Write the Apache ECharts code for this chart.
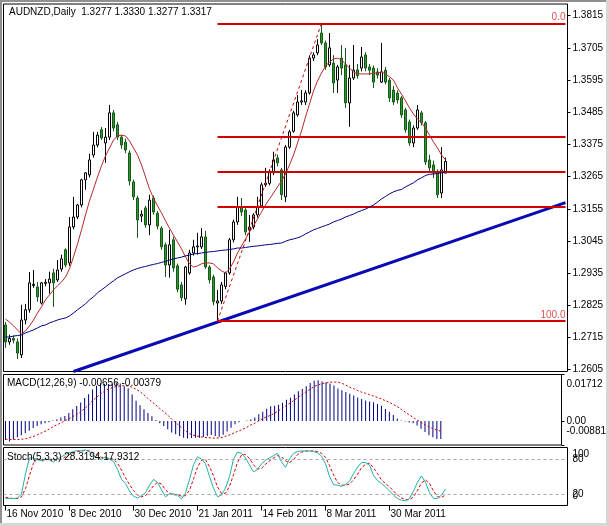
<!DOCTYPE html>
<html><head><meta charset="utf-8">
<script src="https://cdn.jsdelivr.net/npm/echarts@6/dist/echarts.min.js"></script>
<style>html,body{margin:0;padding:0;background:#fff}#c{width:609px;height:526px}</style>
</head><body><div id="c"></div>
<script>
const dates = [
'16 Nov 2010','17 Nov 2010','18 Nov 2010','19 Nov 2010','22 Nov 2010','23 Nov 2010','24 Nov 2010','25 Nov 2010','26 Nov 2010','29 Nov 2010',
'30 Nov 2010','1 Dec 2010','2 Dec 2010','3 Dec 2010','6 Dec 2010','7 Dec 2010','8 Dec 2010','9 Dec 2010','10 Dec 2010','13 Dec 2010',
'14 Dec 2010','15 Dec 2010','16 Dec 2010','17 Dec 2010','20 Dec 2010','21 Dec 2010','22 Dec 2010','23 Dec 2010','24 Dec 2010','27 Dec 2010',
'28 Dec 2010','29 Dec 2010','30 Dec 2010','31 Dec 2010','3 Jan 2011','4 Jan 2011','5 Jan 2011','6 Jan 2011','7 Jan 2011','10 Jan 2011',
'11 Jan 2011','12 Jan 2011','13 Jan 2011','14 Jan 2011','17 Jan 2011','18 Jan 2011','19 Jan 2011','20 Jan 2011','21 Jan 2011','24 Jan 2011',
'25 Jan 2011','26 Jan 2011','27 Jan 2011','28 Jan 2011','31 Jan 2011','1 Feb 2011','2 Feb 2011','3 Feb 2011','4 Feb 2011','7 Feb 2011',
'8 Feb 2011','9 Feb 2011','10 Feb 2011','11 Feb 2011','14 Feb 2011','15 Feb 2011','16 Feb 2011','17 Feb 2011','18 Feb 2011','21 Feb 2011',
'22 Feb 2011','23 Feb 2011','24 Feb 2011','25 Feb 2011','28 Feb 2011','1 Mar 2011','2 Mar 2011','3 Mar 2011','4 Mar 2011','7 Mar 2011',
'8 Mar 2011','9 Mar 2011','10 Mar 2011','11 Mar 2011','14 Mar 2011','15 Mar 2011','16 Mar 2011','17 Mar 2011','18 Mar 2011','21 Mar 2011',
'22 Mar 2011','23 Mar 2011','24 Mar 2011','25 Mar 2011','28 Mar 2011','29 Mar 2011','30 Mar 2011','31 Mar 2011','1 Apr 2011','4 Apr 2011',
'5 Apr 2011','6 Apr 2011','7 Apr 2011','8 Apr 2011','11 Apr 2011','12 Apr 2011','13 Apr 2011','14 Apr 2011','15 Apr 2011','18 Apr 2011',
'19 Apr 2011'];

const openP = [
1.2758,1.2700,1.2712,1.2700,1.2656,1.2775,1.2810,1.2893,1.2888,1.2833,
1.2900,1.2902,1.2936,1.2912,1.2949,1.3015,1.2970,1.3093,1.3127,1.3168,
1.3254,1.3271,1.3339,1.3373,1.3425,1.3380,1.3400,1.3483,1.3442,1.3400,
1.3383,1.3346,1.3247,1.3192,1.3130,1.3158,1.3100,1.3192,1.3140,1.3089,
1.3032,1.2963,1.3049,1.2960,1.2895,1.2847,1.2936,1.3004,1.3025,1.3025,
1.3059,1.2956,1.2922,1.2833,1.2840,1.2890,1.2936,1.3049,1.3110,1.3161,
1.3151,1.3083,1.3093,1.3134,1.3165,1.3237,1.3242,1.3278,1.3329,1.3288,
1.3196,1.3366,1.3420,1.3476,1.3520,1.3520,1.3551,1.3670,1.3688,1.3756,
1.3722,1.3647,1.3653,1.3595,1.3670,1.3647,1.3517,1.3602,1.3630,1.3636,
1.3681,1.3640,1.3636,1.3623,1.3588,1.3629,1.3595,1.3561,1.3551,1.3534,
1.3493,1.3452,1.3380,1.3431,1.3483,1.3449,1.3322,1.3305,1.3281,1.3209,1.3277];
const highP = [
1.2768,1.2725,1.2722,1.2712,1.2827,1.2830,1.2939,1.2946,1.2905,1.2905,
1.2915,1.2940,1.2950,1.2980,1.2998,1.3020,1.3127,1.3196,1.3172,1.3258,
1.3280,1.3343,1.3418,1.3418,1.3435,1.3431,1.3510,1.3493,1.3452,1.3407,
1.3395,1.3355,1.3255,1.3200,1.3150,1.3165,1.3203,1.3200,1.3148,1.3095,
1.3040,1.3083,1.3060,1.2968,1.2905,1.2960,1.3015,1.3049,1.3073,1.3089,
1.3080,1.2962,1.2930,1.2878,1.2905,1.2940,1.3055,1.3118,1.3196,1.3192,
1.3158,1.3134,1.3140,1.3196,1.3245,1.3295,1.3290,1.3350,1.3340,1.3295,
1.3373,1.3425,1.3490,1.3544,1.3561,1.3560,1.3680,1.3690,1.3735,1.3789,
1.3730,1.3756,1.3680,1.3647,1.3715,1.3705,1.3647,1.3715,1.3650,1.3708,
1.3690,1.3650,1.3645,1.3636,1.3722,1.3640,1.3602,1.3575,1.3560,1.3540,
1.3500,1.3460,1.3440,1.3510,1.3490,1.3455,1.3340,1.3320,1.3290,1.3366,1.3330];
const lowP = [
1.2680,1.2690,1.2695,1.2642,1.2645,1.2760,1.2800,1.2885,1.2837,1.2828,
1.2890,1.2865,1.2820,1.2905,1.2940,1.2955,1.2960,1.3085,1.3120,1.3160,
1.3220,1.3262,1.3330,1.3365,1.3390,1.3312,1.3390,1.3420,1.3390,1.3360,
1.3345,1.3235,1.3185,1.3056,1.3110,1.3090,1.3065,1.3135,1.3085,1.3015,
1.2922,1.2920,1.2940,1.2870,1.2840,1.2827,1.2930,1.2995,1.2998,1.3018,
1.2950,1.2900,1.2825,1.2772,1.2830,1.2880,1.2930,1.3040,1.3100,1.3130,
1.3065,1.3042,1.3085,1.3125,1.3160,1.3230,1.3235,1.3270,1.3300,1.3185,
1.3178,1.3360,1.3415,1.3470,1.3510,1.3510,1.3545,1.3660,1.3680,1.3715,
1.3630,1.3640,1.3551,1.3551,1.3612,1.3500,1.3435,1.3595,1.3600,1.3625,
1.3625,1.3612,1.3568,1.3600,1.3585,1.3580,1.3520,1.3510,1.3515,1.3466,
1.3415,1.3370,1.3366,1.3425,1.3440,1.3305,1.3280,1.3260,1.3192,1.3192,1.3277];
const closeP = [
1.2700,1.2712,1.2706,1.2662,1.2775,1.2810,1.2902,1.2897,1.2854,1.2902,
1.2904,1.2915,1.2902,1.2946,1.2984,1.2963,1.3093,1.3127,1.3168,1.3254,
1.3278,1.3322,1.3373,1.3407,1.3397,1.3400,1.3483,1.3431,1.3400,1.3373,
1.3356,1.3250,1.3196,1.3117,1.3136,1.3100,1.3185,1.3144,1.3096,1.3025,
1.2963,1.3032,1.2953,1.2880,1.2851,1.2956,1.3004,1.3025,1.3028,1.3059,
1.2956,1.2912,1.2838,1.2840,1.2895,1.2936,1.3049,1.3110,1.3161,1.3144,
1.3076,1.3093,1.3134,1.3161,1.3237,1.3242,1.3281,1.3322,1.3312,1.3203,
1.3366,1.3418,1.3483,1.3520,1.3524,1.3551,1.3670,1.3681,1.3715,1.3722,
1.3640,1.3705,1.3585,1.3640,1.3636,1.3517,1.3602,1.3629,1.3610,1.3674,
1.3636,1.3629,1.3588,1.3612,1.3623,1.3588,1.3534,1.3520,1.3527,1.3476,
1.3425,1.3380,1.3431,1.3493,1.3449,1.3315,1.3295,1.3278,1.3203,1.3288,1.3317];

const maFast = [
1.2778,1.2768,1.2755,1.2741,1.2727,1.2738,1.2755,1.2775,1.2799,1.2820,
1.2844,1.2861,1.2878,1.2892,1.2905,1.2922,1.2950,1.2991,1.3035,1.3083,
1.3134,1.3182,1.3223,1.3264,1.3302,1.3336,1.3363,1.3390,1.3404,1.3407,
1.3404,1.3387,1.3363,1.3339,1.3305,1.3264,1.3223,1.3192,1.3165,1.3141,
1.3114,1.3089,1.3065,1.3042,1.3018,1.2991,1.2967,1.2956,1.2960,1.2967,
1.2970,1.2970,1.2967,1.2953,1.2943,1.2936,1.2950,1.2973,1.3004,1.3028,
1.3052,1.3076,1.3097,1.3120,1.3144,1.3168,1.3189,1.3209,1.3230,1.3250,
1.3274,1.3305,1.3339,1.3380,1.3421,1.3469,1.3513,1.3558,1.3592,1.3619,
1.3643,1.3657,1.3667,1.3670,1.3664,1.3650,1.3636,1.3623,1.3616,1.3616,
1.3616,1.3616,1.3619,1.3619,1.3623,1.3616,1.3606,1.3595,1.3568,1.3547,
1.3524,1.3500,1.3479,1.3462,1.3449,1.3431,1.3407,1.3383,1.3363,1.3339,1.3322];
const maSlow = [
1.2717,1.2717,1.2720,1.2722,1.2724,1.2731,1.2736,1.2741,1.2748,1.2755,
1.2758,1.2765,1.2770,1.2775,1.2779,1.2782,1.2789,1.2799,1.2810,1.2820,
1.2830,1.2844,1.2854,1.2868,1.2878,1.2888,1.2899,1.2909,1.2919,1.2926,
1.2933,1.2940,1.2946,1.2951,1.2955,1.2958,1.2962,1.2965,1.2968,1.2972,
1.2975,1.2980,1.2984,1.2987,1.2990,1.2994,1.2997,1.3001,1.3002,1.3004,
1.3006,1.3008,1.3009,1.3011,1.3013,1.3014,1.3016,1.3018,1.3021,1.3021,
1.3023,1.3025,1.3027,1.3028,1.3030,1.3032,1.3033,1.3035,1.3037,1.3038,
1.3044,1.3049,1.3052,1.3056,1.3061,1.3069,1.3076,1.3083,1.3088,1.3093,
1.3098,1.3103,1.3110,1.3115,1.3120,1.3127,1.3132,1.3137,1.3144,1.3149,
1.3154,1.3161,1.3168,1.3178,1.3189,1.3197,1.3206,1.3213,1.3218,1.3221,
1.3230,1.3237,1.3244,1.3254,1.3261,1.3269,1.3273,1.3274,1.3276,1.3278,1.3281];

const macdMain = [
-0.0070,-0.0075,-0.0068,-0.0060,-0.0052,-0.0045,-0.0036,-0.0026,-0.0018,-0.0012,
-0.0008,-0.0004,0.0002,0.0007,0.0013,0.0019,0.0030,0.0043,0.0055,0.0068,
0.0085,0.0099,0.0116,0.0130,0.0139,0.0137,0.0134,0.0137,0.0142,0.0138,
0.0128,0.0121,0.0098,0.0075,0.0058,0.0043,0.0030,0.0018,0.0004,-0.0008,
-0.0018,-0.0030,-0.0042,-0.0049,-0.0055,-0.0061,-0.0064,-0.0062,-0.0061,-0.0061,
-0.0059,-0.0055,-0.0051,-0.0055,-0.0058,-0.0050,-0.0038,-0.0025,-0.0012,-0.0004,
0.0000,0.0002,0.0007,0.0013,0.0025,0.0034,0.0045,0.0054,0.0056,0.0060,
0.0067,0.0078,0.0086,0.0098,0.0110,0.0118,0.0128,0.0140,0.0148,0.0150,
0.0145,0.0143,0.0138,0.0131,0.0120,0.0113,0.0107,0.0100,0.0094,0.0087,
0.0081,0.0076,0.0072,0.0069,0.0063,0.0056,0.0044,0.0034,0.0022,0.0009,
0.0002,-0.0002,-0.0005,-0.0008,-0.0016,-0.0028,-0.0040,-0.0052,-0.0060,-0.0066,-0.00656];
const macdSignal = [
-0.0067,-0.0068,-0.0068,-0.0068,-0.0067,-0.0065,-0.0061,-0.0057,-0.0051,-0.0044,
-0.0038,-0.0030,-0.0021,-0.0014,-0.0007,0.0001,0.0008,0.0017,0.0024,0.0033,
0.0046,0.0059,0.0075,0.0087,0.0100,0.0109,0.0118,0.0123,0.0127,0.0129,
0.0130,0.0129,0.0124,0.0117,0.0108,0.0096,0.0083,0.0071,0.0059,0.0046,
0.0034,0.0022,0.0007,-0.0005,-0.0018,-0.0031,-0.0042,-0.0050,-0.0054,-0.0057,
-0.0060,-0.0061,-0.0062,-0.0063,-0.0062,-0.0059,-0.0054,-0.0049,-0.0042,-0.0036,
-0.0030,-0.0023,-0.0014,-0.0008,0.0001,0.0009,0.0016,0.0021,0.0029,0.0038,
0.0048,0.0058,0.0067,0.0077,0.0088,0.0098,0.0108,0.0117,0.0127,0.0133,
0.0138,0.0140,0.0143,0.0143,0.0143,0.0139,0.0132,0.0124,0.0119,0.0112,
0.0106,0.0102,0.0097,0.0092,0.0087,0.0081,0.0075,0.0069,0.0061,0.0053,
0.0043,0.0033,0.0023,0.0014,0.0004,-0.0005,-0.0014,-0.0021,-0.0028,-0.0033,-0.00379];

const stochMain = [
12,12,12,13,20,55,82,82,79,77,
80,79,75,80,84,88,91,93,95,94,
96,92,86,82,80,84,80,76,62,45,
38,25,16,13,17,22,35,45,40,27,
15,20,20,18,11,22,45,70,84,80,
72,50,30,15,18,30,50,80,92,90,
82,70,58,62,72,78,82,86,90,75,
66,80,90,93,94,94,94,93,91,85,
72,50,36,35,33,36,42,55,66,74,
74,70,52,43,38,32,25,18,12,9,
8,12,25,40,51,40,22,12,12,18,28.3194];
const stochSignal = [
14,13,12,12,15,29,52,73,81,79,
79,79,78,78,80,84,88,91,93,94,
95,94,91,87,83,82,81,80,73,61,
48,36,26,18,15,17,25,34,40,37,
27,21,18,19,16,17,26,46,66,78,
79,67,51,32,21,21,33,53,74,87,
88,81,70,63,64,71,77,82,86,84,
77,74,79,88,92,94,94,94,93,90,
83,69,53,40,35,35,37,44,54,65,
71,73,65,55,44,38,32,25,18,13,
10,10,15,26,39,44,38,25,15,14,17.9312];

const priceTicks = ['1.2605','1.2715','1.2825','1.2935','1.3045','1.3155','1.3265','1.3375','1.3485','1.3595','1.3705','1.3815'];
const priceRange = [1.2599, 1.3855];
const macdRange = [-0.00881, 0.01712];
const macdTicks = ['-0.00881', '0.00', '0.01712'];
const stochEdgeTicks = ['0', '100'];
const stochLevelTicks = ['20', '80'];
const stochLevels = [20, 80];

const fibLow = [53, 1.2772];
const fibHigh = [79, 1.3789];
const fibPrices = [1.3789, 1.3401, 1.3280, 1.3161, 1.2772];
const fibLabels = ['0.0', '', '', '', '100.0'];
const trendPts = [[17, 1.2599], [140, 1.3176]];

const futureBars = 30;
const categories = dates.concat(new Array(futureBars).fill(''));
const lastIdx = dates.length - 1;
const FONT = 'Liberation Sans';

const candleData = openP.map((o, i) => [o, closeP[i], lowP[i], highP[i]]);
const showLabel = (idx, val) => val !== '' && idx % 16 === 0;

const header = 'AUDNZD,Daily  ' + [openP[lastIdx], highP[lastIdx], lowP[lastIdx], closeP[lastIdx]].map(v => v.toFixed(4)).join(' ');
const macdText = 'MACD(12,26,9) ' + macdMain[lastIdx].toFixed(5) + ' ' + macdSignal[lastIdx].toFixed(5);
const stochText = 'Stoch(5,3,3) ' + stochMain[lastIdx].toFixed(4) + ' ' + stochSignal[lastIdx].toFixed(4);

const txt = {fontFamily: FONT, fontSize: 10, color: '#000', fontWeight: 'normal'};
const lbl = {fontFamily: FONT, fontSize: 10, color: '#000'};

const fibMarkData = fibPrices.map((p, k) => [
  {coord: [fibLow[0], p], label: {show: fibLabels[k] !== '', formatter: fibLabels[k]}},
  {coord: [categories.length - 1, p]}
]);

const GL = 3.5, GW = 564;
const chart = echarts.init(document.getElementById('c'), null, {renderer: 'canvas'});
chart.setOption({
  animation: false,
  backgroundColor: '#fff',
  title: [
    {text: header, left: 9, top: 7, textStyle: txt, padding: 0},
    {text: macdText, left: 7, top: 378, textStyle: txt, padding: 0},
    {text: stochText, left: 7, top: 452, textStyle: txt, padding: 0}
  ],
  graphic: [
    {type: 'rect', shape: {x: 0, y: 0, width: 609, height: 2}, style: {fill: '#909090'}, silent: true},
    {type: 'rect', shape: {x: 0, y: 0, width: 2, height: 526}, style: {fill: '#909090'}, silent: true},
    {type: 'rect', shape: {x: 606, y: 0, width: 3, height: 526}, style: {fill: '#d6d6d6'}, silent: true},
    {type: 'rect', shape: {x: 0, y: 523, width: 609, height: 3}, style: {fill: '#d6d6d6'}, silent: true}
  ],
  grid: [
    {left: GL, top: 4, width: GW, height: 367.5, show: true, borderColor: '#000', borderWidth: 1, backgroundColor: '#fff'},
    {left: GL, top: 374.5, width: GW, height: 70.5, show: true, borderColor: '#000', borderWidth: 1, backgroundColor: '#fff'},
    {left: GL, top: 447.5, width: GW, height: 58, show: true, borderColor: '#000', borderWidth: 1, backgroundColor: '#fff'}
  ],
  xAxis: [
    {type: 'category', gridIndex: 0, data: categories, show: false},
    {type: 'category', gridIndex: 1, data: categories, show: false},
    {type: 'category', gridIndex: 2, data: categories,
     axisLine: {show: false},
     axisTick: {show: true, interval: showLabel, alignWithLabel: true, length: 5, lineStyle: {color: '#000'}},
     axisLabel: {interval: showLabel, align: 'left', margin: 4, padding: [0, 0, 0, 1], ...lbl}}
  ],
  yAxis: [
    {type: 'value', gridIndex: 0, position: 'right', min: priceRange[0], max: priceRange[1],
     splitLine: {show: false}, axisLine: {show: false},
     axisTick: {show: true, length: 3, customValues: priceTicks.map(Number), lineStyle: {color: '#000'}},
     axisLabel: {customValues: priceTicks.map(Number), formatter: v => v.toFixed(4), margin: 5, ...lbl}},
    {type: 'value', gridIndex: 1, position: 'right', min: macdRange[0], max: macdRange[1],
     splitLine: {show: false}, axisLine: {show: false},
     axisTick: {show: true, length: 3, customValues: macdTicks.map(Number), lineStyle: {color: '#000'}},
     axisLabel: {customValues: macdTicks.map(Number), showMinLabel: true, showMaxLabel: true,
       margin: 5, ...lbl,
       formatter: v => {
         const s = macdTicks[macdTicks.map(Number).indexOf(v)];
         if (v === macdRange[1]) return '{t|' + s + '}';
         if (v === macdRange[0]) return '{b|' + s + '}';
         return s;
       },
       rich: {t: {padding: [20, 0, 0, 0], ...lbl}, b: {padding: [0, 0, 28, 0], ...lbl}}}},
    {type: 'value', gridIndex: 2, position: 'right', min: 0, max: 100,
     splitLine: {show: false}, axisLine: {show: false}, axisTick: {show: false},
     axisLabel: {customValues: stochEdgeTicks.map(Number), showMinLabel: true, showMaxLabel: true,
       margin: 5, ...lbl,
       formatter: v => (v === 100 ? '{t|' : '{b|') + stochEdgeTicks[stochEdgeTicks.map(Number).indexOf(v)] + '}',
       rich: {t: {padding: [14, 0, 0, 0], ...lbl}, b: {padding: [0, 0, 18, 0], ...lbl}}}},
    {type: 'value', gridIndex: 2, position: 'right', offset: 0, min: 0, max: 100,
     splitLine: {show: false}, axisLine: {show: false}, axisTick: {show: false},
     axisLabel: {customValues: stochLevelTicks.map(Number), margin: 5, ...lbl,
       formatter: v => stochLevelTicks[stochLevelTicks.map(Number).indexOf(v)]}}
  ],
  series: [
    {type: 'line', name: 'trend', xAxisIndex: 0, yAxisIndex: 0, data: trendPts, symbol: 'none', clip: true,
     lineStyle: {color: '#0a0ab4', width: 3}, z: 3, silent: true},
    {type: 'candlestick', name: 'AUDNZD', xAxisIndex: 0, yAxisIndex: 0, data: candleData, barWidth: 3, z: 4,
     itemStyle: {color: '#ffffff', color0: '#2a9a2a', borderColor: '#000', borderColor0: '#17571a', borderWidth: 1},
     markLine: {symbol: 'none', silent: true, animation: false,
       data: [{yAxis: closeP[lastIdx]}], lineStyle: {opacity: 0},
       label: {show: true, position: 'end', distance: 2, formatter: closeP[lastIdx].toFixed(4), color: '#fff', backgroundColor: '#000', padding: [2, 3, 1, 3], fontFamily: FONT, fontSize: 10}}},
    {type: 'line', name: 'MA fast', xAxisIndex: 0, yAxisIndex: 0, data: maFast, symbol: 'none', lineStyle: {color: '#b82828', width: 1}, z: 5, silent: true},
    {type: 'line', name: 'MA slow', xAxisIndex: 0, yAxisIndex: 0, data: maSlow, symbol: 'none', lineStyle: {color: '#000080', width: 1}, z: 5, silent: true},
    {type: 'line', name: 'fib', xAxisIndex: 0, yAxisIndex: 0, data: [fibLow, fibHigh], symbol: 'none',
     lineStyle: {color: '#d00000', width: 1, type: [3, 3]}, z: 6, silent: true,
     markLine: {symbol: 'none', silent: true, animation: false, data: fibMarkData,
       lineStyle: {color: '#d40000', width: 2, type: 'solid'},
       label: {position: 'insideEndTop', distance: [0, 1], color: '#e05050', fontFamily: FONT, fontSize: 10}}},
    {type: 'bar', name: 'MACD', xAxisIndex: 1, yAxisIndex: 1, data: macdMain, barWidth: 1, itemStyle: {color: '#000080'}, silent: true},
    {type: 'line', name: 'Signal', xAxisIndex: 1, yAxisIndex: 1, data: macdSignal, symbol: 'none', lineStyle: {color: '#d00000', width: 1, type: [2, 2]}, silent: true},
    {type: 'line', name: 'Stoch', xAxisIndex: 2, yAxisIndex: 2, data: stochMain, symbol: 'none', lineStyle: {color: '#20b2aa', width: 1}, z: 4, silent: true,
     markLine: {symbol: 'none', silent: true, animation: false, data: stochLevels.map(v => ({yAxis: v})),
       lineStyle: {color: '#a8a8a8', width: 1, type: [3, 3]}, label: {show: false}}},
    {type: 'line', name: 'Stoch signal', xAxisIndex: 2, yAxisIndex: 2, data: stochSignal, symbol: 'none', lineStyle: {color: '#e00000', width: 1, type: [3, 2]}, z: 3, silent: true}
  ]
});
</script>
</body></html>
